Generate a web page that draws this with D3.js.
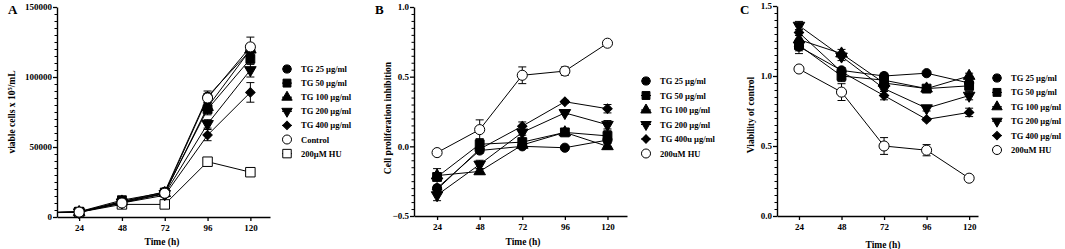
<!DOCTYPE html>
<html>
<head>
<meta charset="utf-8">
<script src="https://cdn.jsdelivr.net/npm/d3@7"></script>
<style>
  html, body { margin: 0; padding: 0; background: #fff; }
  svg { display: block; font-family: "Liberation Serif", "Times New Roman", serif; font-weight: bold; }
</style>
</head>
<body>
<div id="chart"></div>
<script>
// time points (h); panel A also has the seeding point at 0 h (clipped by the axis)
const TIME_H = [24, 48, 72, 96, 120];
const TIME_A = [0, 24, 48, 72, 96, 120];

// Panel A: viable cells
const A_LABELS = ["TG 25 µg/ml", "TG 50 µg/ml", "TG 100 µg/ml", "TG 200 µg/ml", "TG 400 µg/ml", "Control", "200µM HU"];
const A_TG25   = [3000, 3600, 11000, 18000, 86000, 119000];
const A_TG50   = [3000, 3800, 12000, 17500, 77000, 113000];
const A_TG100  = [3000, 3500, 11000, 17000, 78500, 119500];
const A_TG200  = [3000, 3400, 10500, 16500, 66500, 105000];
const A_TG400  = [3000, 3300, 10000, 15500, 58500, 89000];
const A_CTRL   = [3000, 3500, 10000, 17000, 85000, 121500];
const A_HU     = [3000, 3400, 9000, 9000, 39500, 32000];
const A_ERR = [
  [0, 300, 800, 1000, 4000, 5000],
  [0, 300, 900, 1000, 4000, 4000],
  [0, 300, 800, 1000, 3000, 4000],
  [0, 300, 800, 1000, 3000, 5000],
  [0, 300, 800, 1000, 4000, 7000],
  [0, 300, 800, 1000, 3000, 7000],
  [0, 300, 800, 800, 3000, 2000]
];
const A_TICKS = [0, 50000, 100000, 150000];

// Panel B: cell proliferation inhibition
const B_LABELS = ["TG 25 µg/ml", "TG 50 µg/ml", "TG 100 µg/ml", "TG 200 µg/ml", "TG 400u µg/ml", "200uM HU"];
const B_TG25  = [-0.30, -0.03, 0.00, -0.01, 0.045];
const B_TG50  = [-0.22, 0.015, 0.03, 0.10, 0.075];
const B_TG100 = [-0.21, -0.18, 0.01, 0.10, 0.00];
const B_TG200 = [-0.35, -0.13, 0.10, 0.24, 0.155];
const B_TG400 = [-0.31, -0.02, 0.145, 0.32, 0.27];
const B_HU    = [-0.045, 0.12, 0.51, 0.54, 0.74];
const B_ERR = [
  [0.02, 0.02, 0.01, 0.01, 0.02],
  [0.06, 0.04, 0.03, 0.02, 0.04],
  [0.02, 0.02, 0.02, 0.02, 0.02],
  [0.04, 0.03, 0.02, 0.01, 0.03],
  [0.02, 0.02, 0.03, 0.01, 0.03],
  [0.01, 0.07, 0.06, 0.03, 0.01]
];
const B_TICKS = [-0.5, 0.0, 0.5, 1.0];

// Panel C: viability of control
const C_LABELS = ["TG 25 µg/ml", "TG 50 µg/ml", "TG 100 µg/ml", "TG 200 µg/ml", "TG 400 µg/ml", "200uM HU"];
const C_TG25  = [1.21, 1.04, 1.00, 1.02, 0.95];
const C_TG50  = [1.22, 1.00, 0.97, 0.91, 0.93];
const C_TG100 = [1.26, 1.16, 0.95, 0.91, 1.00];
const C_TG200 = [1.36, 1.14, 0.91, 0.77, 0.86];
const C_TG400 = [1.31, 1.03, 0.86, 0.69, 0.74];
const C_HU    = [1.05, 0.885, 0.50, 0.47, 0.27];
const C_ERR = [
  [0.05, 0.02, 0.02, 0.01, 0.02],
  [0.04, 0.04, 0.03, 0.02, 0.03],
  [0.03, 0.03, 0.03, 0.02, 0.02],
  [0.03, 0.03, 0.02, 0.02, 0.03],
  [0.02, 0.02, 0.03, 0.01, 0.03],
  [0.01, 0.06, 0.06, 0.04, 0.01]
];
const C_TICKS = [0.0, 0.5, 1.0, 1.5];

// marker kinds shared by all panels
const SYMBOLS = {
  circle:   { type: d3.symbolCircle,   size: 66, rotate: 0,   fill: "#000" },
  square:   { type: d3.symbolSquare,   size: 78, rotate: 0,   fill: "#000" },
  triangle: { type: d3.symbolTriangle, size: 58, rotate: 0,   fill: "#000" },
  invtri:   { type: d3.symbolTriangle, size: 58, rotate: 180, fill: "#000" },
  diamond:  { type: d3.symbolSquare,   size: 44, rotate: 45,  fill: "#000" },
  ocircle:  { type: d3.symbolCircle,   size: 80, rotate: 0,   fill: "#fff" },
  osquare:  { type: d3.symbolSquare,   size: 90, rotate: 0,   fill: "#fff" }
};

const panels = [
  {
    letter: "A", left: 57, right: 270, top: 7, bottom: 217, xDomain: [11.6, 131],
    yDomain: [0, 150000], yTicks: A_TICKS, minor: 5000, fmt: d3.format("d"),
    times: TIME_A,
    series: [A_TG25, A_TG50, A_TG100, A_TG200, A_TG400, A_CTRL, A_HU],
    err: A_ERR, labels: A_LABELS,
    shapes: ["circle", "square", "triangle", "invtri", "diamond", "ocircle", "osquare"],
    // draw order: HU first, then TG, control on top
    order: [6, 4, 3, 2, 1, 0, 5],
    yTitle: ["viable cells x 10", "5", "/mL"], yTitleX: 15, yTitleY: 112,
    xTitleX: 162, xTitleY: 245, letterX: 8,
    legendX: 287, legendY: 69, legendStep: 14.1
  },
  {
    letter: "B", left: 414, right: 627, top: 7, bottom: 216, xDomain: [11, 131],
    yDomain: [-0.5, 1.0], yTicks: B_TICKS, minor: 0.05, fmt: d3.format(".1f"),
    times: TIME_H,
    series: [B_TG25, B_TG50, B_TG100, B_TG200, B_TG400, B_HU],
    err: B_ERR, labels: B_LABELS,
    shapes: ["circle", "square", "triangle", "invtri", "diamond", "ocircle"],
    order: [5, 4, 3, 2, 1, 0],
    yTitle: ["Cell proliferation inhibition"], yTitleX: 391, yTitleY: 118,
    xTitleX: 523, xTitleY: 245, letterX: 375,
    legendX: 646, legendY: 81, legendStep: 14.5
  },
  {
    letter: "C", left: 777, right: 978, top: 6, bottom: 216, xDomain: [11.6, 125],
    yDomain: [0, 1.5], yTicks: C_TICKS, minor: 0.05, fmt: d3.format(".1f"),
    times: TIME_H,
    series: [C_TG25, C_TG50, C_TG100, C_TG200, C_TG400, C_HU],
    err: C_ERR, labels: C_LABELS,
    shapes: ["circle", "square", "triangle", "invtri", "diamond", "ocircle"],
    order: [5, 4, 3, 2, 1, 0],
    yTitle: ["Viability of control"], yTitleX: 754, yTitleY: 115,
    xTitleX: 883, xTitleY: 248, letterX: 740,
    legendX: 997, legendY: 78, legendStep: 14.4
  }
];

const W = 1065, H = 249;
const svg = d3.select("#chart").append("svg")
  .attr("width", W).attr("height", H)
  .attr("viewBox", `0 0 ${W} ${H}`);
svg.append("rect").attr("width", W).attr("height", H).attr("fill", "#fff");

function symbolPath(kind, scale = 1) {
  const s = SYMBOLS[kind];
  return d3.symbol().type(s.type).size(s.size * scale)();
}

panels.forEach((p, pi) => {
  const x = d3.scaleLinear().domain(p.xDomain).range([p.left, p.right]);
  const y = d3.scaleLinear().domain(p.yDomain).range([p.bottom, p.top]);
  const g = svg.append("g");

  const clipId = "clip" + pi;
  svg.append("clipPath").attr("id", clipId)
    .append("rect")
    .attr("x", p.left).attr("y", 0)
    .attr("width", p.right - p.left + 10).attr("height", p.bottom + 10);

  // minor y ticks
  const minorTicks = d3.range(p.yDomain[0], p.yDomain[1] + p.minor / 2, p.minor)
    .filter(v => !p.yTicks.some(t => Math.abs(t - v) < p.minor / 10));
  g.append("g")
    .attr("transform", `translate(${p.left},0)`)
    .call(d3.axisLeft(y).tickValues(minorTicks).tickSize(2.5).tickFormat(""))
    .call(a => a.select(".domain").remove())
    .call(a => a.selectAll("line").attr("stroke-width", 1));

  // major y axis
  g.append("g")
    .attr("transform", `translate(${p.left},0)`)
    .call(d3.axisLeft(y).tickValues(p.yTicks).tickSize(4).tickPadding(1).tickSizeOuter(0).tickFormat(p.fmt))
    .call(a => a.select(".domain").attr("stroke-width", 1.4))
    .call(a => a.selectAll("line").attr("stroke-width", 1.3))
    .call(a => a.selectAll("text")
      .attr("font-family", "Liberation Serif, serif")
      .attr("font-weight", "bold").attr("font-size", 9).attr("fill", "#000"));

  // x axis
  g.append("g")
    .attr("transform", `translate(0,${p.bottom})`)
    .call(d3.axisBottom(x).tickValues(TIME_H).tickSize(4).tickPadding(4).tickSizeOuter(0))
    .call(a => a.select(".domain").attr("stroke-width", 1.4))
    .call(a => a.selectAll("line").attr("stroke-width", 1.3))
    .call(a => a.selectAll("text")
      .attr("font-family", "Liberation Serif, serif")
      .attr("font-weight", "bold").attr("font-size", 9).attr("fill", "#000"));

  // titles
  g.append("text")
    .attr("x", p.xTitleX).attr("y", p.xTitleY)
    .attr("text-anchor", "middle").attr("font-size", 9.5)
    .text("Time (h)");

  const yt = g.append("text")
    .attr("transform", `translate(${p.yTitleX},${p.yTitleY}) rotate(-90)`)
    .attr("text-anchor", "middle").attr("font-size", 9.5);
  yt.append("tspan").text(p.yTitle[0]);
  if (p.yTitle.length > 1) {
    yt.append("tspan").attr("dy", -3.5).attr("font-size", 6.5).text(p.yTitle[1]);
    yt.append("tspan").attr("dy", 3.5).text(p.yTitle[2]);
  }

  g.append("text")
    .attr("x", p.letterX).attr("y", 14)
    .attr("font-size", 13)
    .text(p.letter);

  // series
  const plot = g.append("g").attr("clip-path", `url(#${clipId})`);
  const line = d3.line().x(d => x(d[0])).y(d => y(d[1]));

  p.order.forEach(si => {
    const vals = p.series[si];
    const pts = p.times.map((t, i) => [t, vals[i], p.err[si][i]]);
    const sg = plot.append("g");

    sg.append("path")
      .datum(pts)
      .attr("d", line)
      .attr("fill", "none")
      .attr("stroke", "#000")
      .attr("stroke-width", 1);

    const eb = sg.selectAll(".eb")
      .data(pts.filter(d => d[2] > 0))
      .join("g")
      .attr("class", "eb")
      .attr("stroke", "#000").attr("stroke-width", 1);
    eb.append("line")
      .attr("x1", d => x(d[0])).attr("x2", d => x(d[0]))
      .attr("y1", d => y(d[1] - d[2])).attr("y2", d => y(d[1] + d[2]));
    eb.append("line")
      .attr("x1", d => x(d[0]) - 4).attr("x2", d => x(d[0]) + 4)
      .attr("y1", d => y(d[1] + d[2])).attr("y2", d => y(d[1] + d[2]));
    eb.append("line")
      .attr("x1", d => x(d[0]) - 4).attr("x2", d => x(d[0]) + 4)
      .attr("y1", d => y(d[1] - d[2])).attr("y2", d => y(d[1] - d[2]));

    const kind = p.shapes[si];
    sg.selectAll(".pt")
      .data(pts)
      .join("path")
      .attr("class", "pt")
      .attr("d", symbolPath(kind))
      .attr("transform", d => `translate(${x(d[0])},${y(d[1])}) rotate(${SYMBOLS[kind].rotate})`)
      .attr("fill", SYMBOLS[kind].fill)
      .attr("stroke", "#000")
      .attr("stroke-width", 1);
  });

  // legend
  const legend = g.append("g")
    .attr("transform", `translate(${p.legendX},${p.legendY})`);
  p.labels.forEach((lab, i) => {
    const row = legend.append("g").attr("transform", `translate(0,${i * p.legendStep})`);
    const kind = p.shapes[i];
    row.append("line")
      .attr("x1", -5).attr("x2", 5)
      .attr("stroke", "#000").attr("stroke-width", 1);
    row.append("path")
      .attr("d", symbolPath(kind, 0.8))
      .attr("transform", `rotate(${SYMBOLS[kind].rotate})`)
      .attr("fill", SYMBOLS[kind].fill)
      .attr("stroke", "#000").attr("stroke-width", 1);
    row.append("text")
      .attr("x", 14).attr("y", 3)
      .attr("font-size", 8.5)
      .text(lab);
  });
});
</script>
</body>
</html>
